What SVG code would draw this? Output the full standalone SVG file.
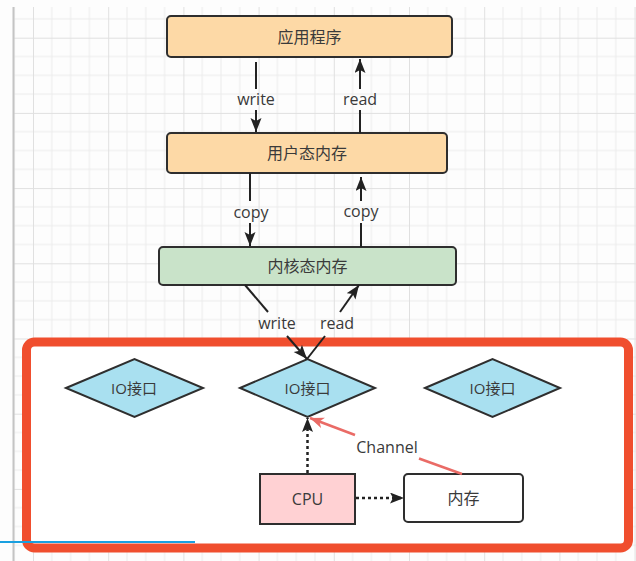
<svg xmlns="http://www.w3.org/2000/svg" width="636" height="561" viewBox="0 0 636 561">
<defs>
<pattern id="grid" patternUnits="userSpaceOnUse" x="33" y="37.7" width="75.2" height="75.2">
<path d="M18.8,0V75.2M37.6,0V75.2M56.4,0V75.2M0,18.8H75.2M0,37.6H75.2M0,56.4H75.2" stroke="#ececec" stroke-width="1" fill="none"/>
<path d="M0.5,0V75.2M0,0.5H75.2" stroke="#e0e0e0" stroke-width="1" fill="none"/>
</pattern>
<marker id="arr" markerUnits="userSpaceOnUse" markerWidth="15" markerHeight="12" refX="14" refY="5.5" orient="auto">
<path d="M0,0 L14,5.5 L0,11 L3,5.5 z" fill="#222"/>
</marker>
<marker id="arrR" markerUnits="userSpaceOnUse" markerWidth="15" markerHeight="12" refX="14" refY="5.5" orient="auto">
<path d="M0,0 L14,5.5 L0,11 L4,5.5 z" fill="#ea6b66"/>
</marker>
</defs>
<style>
.t{font-family:"Open Sans","Noto Sans CJK SC",sans-serif;font-size:16px;fill:#3a3a3a;text-anchor:middle;dominant-baseline:central}
.d{font-size:15px}
.box{stroke:#2e2e2e;stroke-width:2}
.ln{stroke:#222;stroke-width:2;fill:none}
.dot{stroke:#222;stroke-width:2.5;fill:none;stroke-dasharray:3 3}
.red{stroke:#ea6b66;stroke-width:2.5;fill:none}
</style>
<rect width="636" height="561" fill="#fdfdfd"/>
<rect x="14" y="7" width="622" height="554" fill="url(#grid)"/>
<line x1="13.5" y1="7" x2="13.5" y2="561" stroke="#c4c4c4" stroke-width="2"/>

<g id="io-area">
<rect x="26.5" y="342" width="602" height="206" rx="8" fill="#ffffff" stroke="#f04e2e" stroke-width="9"/>
</g>

<g id="app">
<rect class="box" x="167" y="16" width="285" height="41" rx="4" fill="#fdd9a6"/>
<text class="t" x="309.5" y="37">应用程序</text>
</g>
<g id="user-mem">
<rect class="box" x="167" y="133" width="280" height="40" rx="4" fill="#fdd9a6"/>
<text class="t" x="307" y="153">用户态内存</text>
</g>
<g id="kernel-mem">
<rect class="box" x="159" y="247" width="297" height="38" rx="4" fill="#c9e3c9"/>
<text class="t" x="307.5" y="266">内核态内存</text>
</g>
<g id="io1">
<path class="box" d="M66,388 L134.5,359 L203,388 L134.5,417 z" fill="#a9e0f0"/>
<text class="t d" x="134" y="388">IO接口</text>
</g>
<g id="io2">
<path class="box" d="M240,388 L307.5,359 L375,388 L307.5,417 z" fill="#a9e0f0"/>
<text class="t d" x="307.5" y="388">IO接口</text>
</g>
<g id="io3">
<path class="box" d="M425,388 L492.5,359 L560,388 L492.5,417 z" fill="#a9e0f0"/>
<text class="t d" x="492.5" y="388">IO接口</text>
</g>
<g id="cpu">
<rect class="box" x="260" y="474" width="95" height="50" fill="#ffd1d3"/>
<text class="t" x="307.5" y="499">CPU</text>
</g>
<g id="mem">
<rect class="box" x="404" y="474" width="119" height="48" rx="4" fill="#ffffff"/>
<text class="t" x="463.5" y="498">内存</text>
</g>

<g id="connectors">
<line class="ln" x1="256" y1="62" x2="256" y2="89"/>
<line class="ln" x1="256" y1="110" x2="256" y2="132" marker-end="url(#arr)"/>
<text class="t" x="256" y="99">write</text>
<line class="ln" x1="360" y1="133" x2="360" y2="110"/>
<line class="ln" x1="360" y1="89" x2="360" y2="59" marker-end="url(#arr)"/>
<text class="t" x="360" y="99">read</text>

<line class="ln" x1="250" y1="173" x2="250" y2="201"/>
<line class="ln" x1="250" y1="223" x2="250" y2="246" marker-end="url(#arr)"/>
<text class="t" x="251" y="212">copy</text>
<line class="ln" x1="361" y1="247" x2="361" y2="223"/>
<line class="ln" x1="361" y1="201" x2="361" y2="177" marker-end="url(#arr)"/>
<text class="t" x="361" y="211">copy</text>

<line class="ln" x1="245" y1="285" x2="268" y2="312"/>
<line class="ln" x1="287" y1="336" x2="307" y2="359" marker-end="url(#arr)"/>
<text class="t" x="277" y="323">write</text>
<line class="ln" x1="307" y1="359" x2="325" y2="336"/>
<line class="ln" x1="340" y1="312" x2="359" y2="285" marker-end="url(#arr)"/>
<text class="t" x="337" y="323">read</text>

<line class="dot" x1="307.5" y1="473" x2="307.5" y2="418" marker-end="url(#arr)"/>
<line class="dot" x1="356" y1="498" x2="404" y2="498" marker-end="url(#arr)"/>

<line class="red" x1="462" y1="474" x2="419" y2="458.5"/>
<line class="red" x1="355" y1="435" x2="310" y2="418" marker-end="url(#arrR)"/>
<text class="t" x="387" y="447">Channel</text>
</g>

<line x1="0" y1="542" x2="195" y2="542" stroke="#1aa0e0" stroke-width="2"/>
</svg>
